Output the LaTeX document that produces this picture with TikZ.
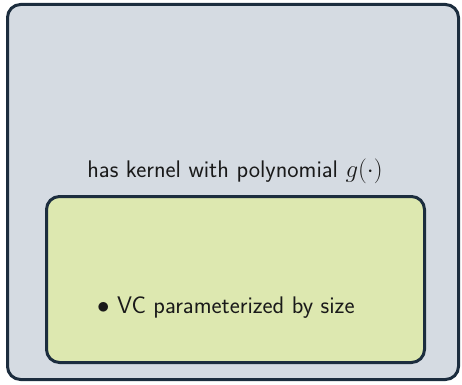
\documentclass[tikz,border=0pt]{standalone}
\usepackage{amsmath}
\usepackage{fontspec}
\definecolor{outerfill}{HTML}{D5DBE2}
\definecolor{innerfill}{HTML}{DDE8B0}
\definecolor{edge}{HTML}{1C2D3E}
\definecolor{txt}{HTML}{1A1A1A}
\begin{document}
\begin{tikzpicture}[x=1pt,y=1pt,
  box/.style={draw=edge, line width=3pt, rounded corners=13pt},
  lab/.style={text=txt, font=\sffamily\fontsize{24}{29}\selectfont, inner sep=0pt}]
\useasboundingbox (0,0) rectangle (462,384);
\path[box, fill=outerfill] (7.5,4.5) rectangle (458.5,379.5);
\path[box, fill=innerfill] (46.5,21.5) rectangle (424.5,187.5);
\node[lab, anchor=base] (k) at (235,207) {has kernel with polynomial $g(\cdot)$};
\node[lab, anchor=base west] (v) at (97,71) {$\bullet$ VC parameterized by size};
\end{tikzpicture}
\end{document}
